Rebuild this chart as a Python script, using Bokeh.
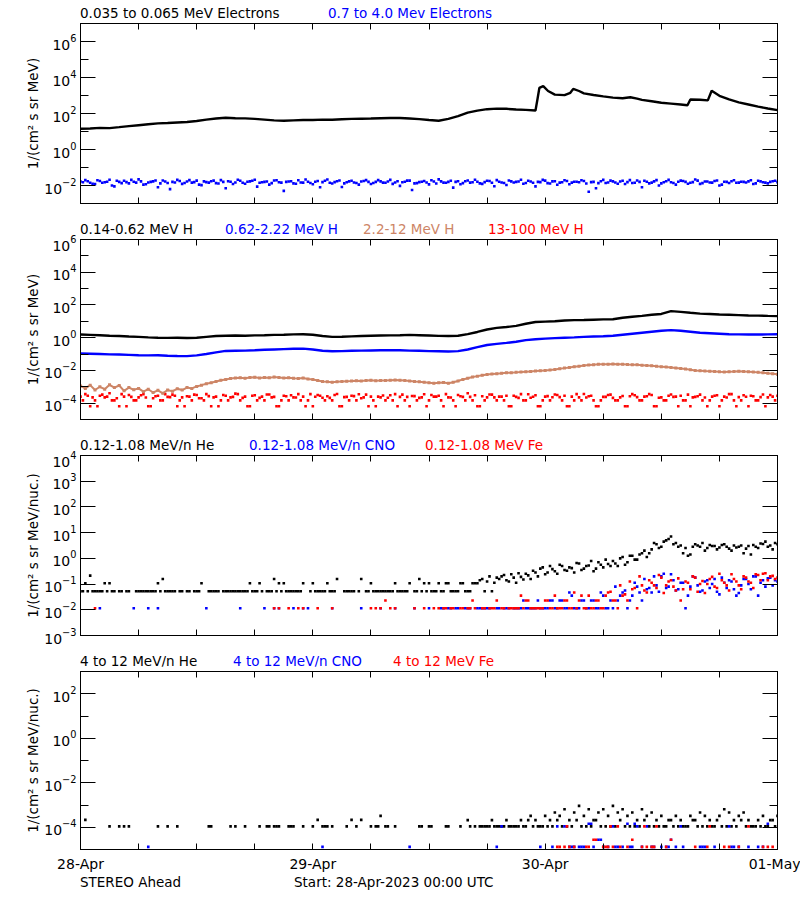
import numpy as np
from bokeh.plotting import figure
from bokeh.layouts import column
from bokeh.models import FixedTicker, LogAxis, LinearAxis, Range1d, CustomJSTickFormatter, Div
from bokeh.embed import file_html
from bokeh.resources import INLINE

N = None
FONT = "DejaVu Sans"
FS = "13.5px"
TICK_FS = "14px"
BLACK, BLUE, BROWN, RED = "#000000", "#0000ff", "#cd8566", "#ff0000"

# ---------------- axes / labels ----------------
DAY_TICKS = [0, 24, 48, 72]
DAY_LABELS = ["28-Apr", "29-Apr", "30-Apr", "01-May"]
SIX_HOUR_TICKS = [6, 12, 18, 30, 36, 42, 54, 60, 66]
FOOT_LEFT = "STEREO Ahead"
FOOT_START = "Start: 28-Apr-2023 00:00 UTC"

# sample times (hours since 28-Apr-2023 00:00)
HOURS = list(range(73))
HALF = [i * 0.5 for i in range(145)]
HALF_OFF = [0.25 + i * 0.5 for i in range(144)]

# ---------------- panel 1 : electrons (log10 values) ----------------
E_LO_HOURS = list(range(48)) + [47.2, 47.4, 47.8, 48.3, 49, 50, 50.6, 50.9, 51.5, 52, 53, 54, 55, 56,
                                56.8, 57.5, 58, 59, 60, 61, 62, 62.7, 63, 64, 64.8, 65.2, 66, 67, 68,
                                69, 70, 71, 72]
E_LO_LOG = [1.15, 1.17, 1.20, 1.19, 1.24, 1.30, 1.35, 1.40, 1.45, 1.47, 1.50, 1.53, 1.58, 1.66, 1.72,
            1.76, 1.74, 1.73, 1.70, 1.66, 1.62, 1.60, 1.62, 1.64, 1.64, 1.66, 1.65, 1.68, 1.70, 1.71,
            1.72, 1.74, 1.75, 1.75, 1.72, 1.69, 1.64, 1.60, 1.70, 1.85, 2.05, 2.16, 2.24, 2.27, 2.26,
            2.22, 2.20, 2.17,
            2.78, 3.42, 3.52, 3.25, 3.05, 3.02, 3.15, 3.37, 3.25, 3.12, 3.03, 2.95, 2.88, 2.85, 2.90,
            2.83, 2.76, 2.68, 2.60, 2.55, 2.50, 2.46, 2.78, 2.76, 2.73, 3.26, 2.98, 2.78, 2.62, 2.50,
            2.38, 2.28, 2.19]
E_HI_LOG = [-1.78, -1.70, -1.85, -1.92, -1.75, -1.82, -1.68, -2.05, -1.80, -1.74,
            -1.88, -1.79, -1.66, -1.95, -1.83, -1.77, -2.10, -1.72, -1.86, -1.80,
            -1.69, -1.91, -1.78, -1.84, -1.73, -1.98, -1.81, -1.76, -1.87, -1.70,
            -2.15, -1.79, -1.83, -1.74, -1.90, -1.77, -1.68, -1.85, -1.80, -1.95,
            -1.72, -1.82, -2.30, -1.78, -1.88, -1.71, -1.84, -1.79, -1.93, -1.75,
            -1.81, -1.67, -1.89, -1.76, -2.08, -1.82, -1.74, -1.86, -1.78, -1.70,
            -1.92, -1.80, -1.77, -1.85, -1.69, -1.83, -2.02, -1.79, -1.73, -1.88,
            -1.81, -1.75, -1.94, -1.78, -1.66, -1.84, -1.80, -2.12, -1.76, -1.87,
            -1.72, -1.82, -1.79, -1.91, -1.74, -1.85, -1.70, -1.83, -1.97, -1.77,
            -1.80, -1.68, -1.86, -1.78, -2.05, -1.81, -1.73, -1.89, -1.76, -1.84,
            -1.71, -1.93, -1.79, -1.82, -1.75, -2.35, -1.80, -1.87, -1.69, -1.83,
            -1.77, -1.90, -1.74, -1.81, -1.86, -1.72, -2.10, -1.79, -1.84, -1.70,
            -1.88, -1.76, -1.82, -1.95, -1.73, -1.80, -1.85, -1.67, -1.91, -1.78,
            -1.83, -1.75, -2.00, -1.79, -1.86, -1.71, -1.84, -1.80, -1.77, -1.92,
            -1.74, -1.82, -1.88, -1.76, -1.81]
E_HI_LOG_B = [-1.82, -1.76, -1.90, -1.71, -1.85, -1.79, -2.00, -1.74, -1.87, -1.81,
              -1.69, -1.84, -1.77, -1.93, -1.80, -1.72, -1.88, -1.78, -2.20, -1.83,
              -1.75, -1.86, -1.70, -1.81, -1.95, -1.77, -1.84, -1.73, -1.89, -1.80,
              -1.76, -1.92, -1.68, -1.85, -1.79, -1.74, -2.06, -1.82, -1.78, -1.87,
              -1.71, -1.84, -1.80, -1.76, -1.90, -1.83, -1.67, -1.86, -1.79, -2.10,
              -1.74, -1.85, -1.81, -1.72, -1.88, -1.77, -1.83, -1.95, -1.75, -1.80,
              -1.86, -1.70, -1.84, -1.78, -1.91, -1.76, -1.82, -1.73, -2.25, -1.87,
              -1.79, -1.83, -1.71, -1.89, -1.77, -1.85, -1.74, -1.80, -1.93, -1.76,
              -1.84, -1.68, -1.88, -1.81, -1.75, -2.04, -1.79, -1.86, -1.72, -1.83,
              -1.78, -1.90, -1.74, -1.85, -1.80, -1.69, -1.87, -1.77, -1.96, -1.82,
              -1.75, -1.84, -1.79, -1.71, -1.89, -1.81, -2.15, -1.76, -1.86, -1.73,
              -1.83, -1.78, -1.92, -1.70, -1.85, -1.80, -1.74, -1.88, -1.77, -2.00,
              -1.82, -1.69, -1.86, -1.79, -1.75, -1.90, -1.81, -1.73, -1.87, -1.78,
              -1.84, -1.72, -1.95, -1.80, -1.76, -1.85, -1.79, -1.83, -1.71, -1.88,
              -1.77, -1.84, -1.80, -1.74]

# ---------------- panel 2 : protons (log10 values) ----------------
H1_LOG = [0.19, 0.17, 0.15, 0.12, 0.10, 0.07, 0.05, 0.02, 0.00, -0.01,
          0.00, -0.02, 0.00, 0.05, 0.10, 0.12, 0.13, 0.12, 0.14, 0.15,
          0.17, 0.18, 0.20, 0.21, 0.18, 0.10, 0.05, 0.06, 0.08, 0.10,
          0.12, 0.13, 0.14, 0.15, 0.17, 0.15, 0.13, 0.11, 0.10, 0.12,
          0.22, 0.35, 0.50, 0.60, 0.65, 0.72, 0.85, 0.96, 0.98, 1.00,
          1.05, 1.07, 1.08, 1.10, 1.12, 1.13, 1.22, 1.28, 1.33, 1.40,
          1.45, 1.62, 1.58, 1.52, 1.47, 1.45, 1.42, 1.40, 1.38, 1.36,
          1.35, 1.33, 1.32]
H2_LOG = [-0.97, -0.98, -1.00, -1.02, -1.03, -1.05, -1.07, -1.08, -1.07, -1.10,
          -1.12, -1.13, -1.08, -1.00, -0.90, -0.81, -0.80, -0.79, -0.77, -0.74,
          -0.72, -0.70, -0.68, -0.67, -0.72, -0.80, -0.83, -0.82, -0.80, -0.79,
          -0.78, -0.77, -0.77, -0.77, -0.79, -0.80, -0.82, -0.83, -0.84, -0.82,
          -0.72, -0.58, -0.45, -0.38, -0.32, -0.25, -0.15, -0.10, -0.06, -0.03,
          0.00, 0.02, 0.05, 0.07, 0.09, 0.12, 0.18, 0.24, 0.30, 0.36,
          0.42, 0.46, 0.42, 0.36, 0.30, 0.27, 0.24, 0.21, 0.20, 0.19,
          0.19, 0.20, 0.21]
H3_LOG = [-2.95, -3.10, -2.90, -3.20, -3.00, -3.15, -2.88, -3.05, -2.92, -3.25,
          -3.05, -3.18, -3.10, -3.30, -3.15, -3.35, -3.22, -3.40, -3.20, -3.28,
          -3.12, -3.20, -3.05, -3.10, -2.98,
          -2.90, -2.82, -2.75, -2.68, -2.60, -2.55, -2.50, -2.46,
          -2.45, -2.48, -2.44, -2.42, -2.46, -2.43, -2.45, -2.41, -2.44, -2.47, -2.45, -2.48,
          -2.50, -2.47, -2.52, -2.55,
          -2.62, -2.68, -2.70, -2.72, -2.70, -2.68, -2.66, -2.65, -2.63, -2.64, -2.62, -2.60,
          -2.63, -2.61, -2.62, -2.60, -2.58, -2.60,
          -2.62, -2.65, -2.68, -2.70, -2.72, -2.75, -2.78, -2.76, -2.74, -2.78, -2.72, -2.65,
          -2.55, -2.48,
          -2.40, -2.35, -2.30, -2.25, -2.22, -2.20, -2.18, -2.15, -2.14, -2.12, -2.10, -2.08,
          -2.06, -2.04, -2.02, -2.00,
          -1.98, -1.95, -1.90, -1.86, -1.82, -1.78, -1.74, -1.70, -1.67, -1.65, -1.63, -1.62,
          -1.62, -1.61, -1.63, -1.62, -1.64, -1.65, -1.66, -1.68, -1.70, -1.72, -1.75, -1.77,
          -1.79, -1.82,
          -1.85, -1.88, -1.92, -1.96, -2.00, -2.02, -2.04, -2.05, -2.06, -2.08, -2.09, -2.08,
          -2.07, -2.05, -2.06, -2.08, -2.10, -2.12, -2.15, -2.18, -2.20, -2.23]
H4_LOG = [-3.60, -3.45, -4.19, -3.83, -3.55, -3.65, -3.40, -3.83, -4.19, -3.60,
          -3.50, -3.83, -3.65, -3.45, -4.19, -3.70, -3.55, -3.83, -3.62, -3.48,
          -4.19, -3.65, -3.58, -3.83, -3.50, -3.70, -3.45, -4.19, -3.60, -3.83,
          -3.55, -3.65, -3.42, -3.83, -3.60, -4.19, -3.52, -3.68, -3.83, -3.47,
          -3.62, -4.19, -3.55, -3.83, -3.65, -3.45, -3.60, -3.83, -4.19, -3.50,
          -3.67, -3.58, -3.83, -3.44, -4.19, -3.62, -3.55, -3.83, -3.70, -3.48,
          -3.60, -4.19, -3.65, -3.83, -3.52, -3.45, -3.62, -3.83, -4.19, -3.57,
          -3.68, -3.46, -3.83, -3.60, -3.55, -4.19, -3.65, -3.83, -3.50, -3.62,
          -3.40, -3.83, -4.19, -3.58, -3.65, -3.48, -3.83, -3.60, -3.55, -4.19,
          -3.62, -3.45, -3.83, -3.67, -3.52, -4.19, -3.60, -3.83, -3.47, -3.63,
          -3.55, -4.19, -3.83, -3.65, -3.44, -3.58, -3.83, -4.19, -3.62, -3.50,
          -3.68, -3.83, -3.56, -4.19, -3.45, -3.63, -3.83, -3.58, -3.50, -4.19,
          -3.65, -3.83, -3.47, -3.60, -3.55, -3.83, -4.19, -3.62, -3.48, -3.66,
          -3.83, -3.55, -4.19, -3.60, -3.45, -3.83, -3.63, -3.52, -4.19, -3.58,
          -3.83, -3.47, -3.65, -3.60, -3.55]
H4_LOG_B = [-3.83, -3.55, -3.65, -4.19, -3.48, -3.60, -3.83, -3.70, -3.45, -4.19,
            -3.62, -3.83, -3.52, -3.66, -4.19, -3.58, -3.83, -3.45, -3.63, -3.55,
            -3.83, -4.19, -3.60, -3.48, -3.70, -3.83, -3.57, -3.65, -4.19, -3.50,
            -3.83, -3.62, -3.45, -3.68, -4.19, -3.55, -3.83, -3.60, -3.47, -3.65,
            -4.19, -3.83, -3.58, -3.52, -3.66, -3.83, -4.19, -3.45, -3.61, -3.55,
            -3.83, -3.68, -3.50, -4.19, -3.63, -3.83, -3.57, -3.46, -3.65, -4.19,
            -3.83, -3.60, -3.53, -3.67, -3.83, -4.19, -3.48, -3.62, -3.56, -3.83,
            -3.65, -4.19, -3.50, -3.60, -3.83, -3.45, -3.66, -4.19, -3.58, -3.83,
            -3.62, -3.52, -4.19, -3.83, -3.47, -3.65, -3.60, -3.83, -4.19, -3.55,
            -3.68, -3.83, -3.46, -3.61, -4.19, -3.83, -3.57, -3.64, -3.50, -3.83,
            -4.19, -3.60, -3.45, -3.83, -3.66, -3.55, -4.19, -3.83, -3.62, -3.48,
            -3.83, -3.65, -4.19, -3.58, -3.52, -3.83, -3.60, -3.45, -4.19, -3.67,
            -3.83, -3.55, -3.62, -4.19, -3.83, -3.48, -3.65, -3.58, -3.83, -4.19,
            -3.60, -3.52, -3.83, -3.66, -3.45, -4.19, -3.83, -3.61, -3.55, -3.83,
            -3.63, -4.19, -3.50, -3.83]

# ---------------- panel 3 : 0.12-1.08 MeV/n (log10, None = no data) ----------------
HE3_A = [-1.28, -0.97, -0.67, -1.28, -1.28, -0.97, -0.97, -1.28, -1.28, N,
         -1.28, N, -1.28, -1.28, -1.28, -1.28, -0.97, -0.80, -1.28, -1.28,
         N, -1.28, -1.28, N, -1.28, -0.97, N, -1.28, -1.28, N,
         -1.28, -1.28, -1.28, -1.28, -1.28, -0.97, -1.28, -0.97, N, -1.28,
         -0.80, -0.97, -0.97, -1.28, -1.28, -1.28, -0.97, N, -0.97, -1.28,
         -1.28, -0.97, -1.28, -0.80, N, -1.28, -1.28, N, -0.80, -1.28,
         -0.97, -1.28, -1.28, -1.28, -1.28, -0.97, -1.28, -1.28, -0.97, -1.28,
         -0.80, -0.97, -0.97, -1.28, -0.97, -1.28, -0.97, -1.28, -1.28, -0.97,
         -1.28, -0.97, -0.97, -0.80, -0.90, -1.28, -0.75, -0.70, -0.85, -0.62,
         -0.95, -0.72, -0.60, -0.80, -0.55, -0.40, -0.62, -0.30, -0.50, -0.25,
         -0.45, -0.35, -0.55, -0.20, -0.40, -0.28, -0.50, -0.15, -0.35, -0.22,
         -0.10, -0.30, 0.05, -0.15, 0.10, -0.05, 0.20, 0.05, 0.35, 0.55,
         0.45, 0.70, 0.85, 0.60, 0.50, 0.40, 0.15, 0.55, 0.45, 0.30,
         0.52, 0.48, 0.42, 0.55, 0.38, 0.50, 0.45, 0.20, 0.48, 0.52,
         0.40, 0.56, 0.45, 0.35, 0.55]
HE3_B = [-1.28, -1.28, -1.28, -1.28, -1.28, -1.28, -1.28, N, -1.28, -1.28,
         N, -1.28, -1.28, -1.28, -1.28, -1.28, -1.28, -1.28, -1.28, -1.28,
         -1.28, N, -1.28, -1.28, -1.28, N, -1.28, -1.28, -1.28, -1.28,
         -1.28, -1.28, -1.28, -1.28, -1.28, -1.28, -1.28, -1.28, -1.28, -1.28,
         -1.28, -1.28, -1.28, -1.28, -1.28, -1.28, N, -1.28, -1.28, -1.28,
         -1.28, -1.28, -1.28, N, -1.28, -1.28, -1.28, -1.28, N, -1.28,
         -1.28, -1.28, -1.28, -1.28, -1.28, -1.28, -1.28, -1.28, N, -1.28,
         -1.28, -1.28, -1.28, -1.28,
         -1.28, -0.97, -1.28, -1.28, -0.97, -1.28, -1.28, -0.97, -0.85, -1.28,
         -0.70, -0.95, -0.80, -0.65, -0.90, -0.75, -0.58, -0.82, -0.66, -0.48,
         -0.70, -0.35, -0.55, -0.42, -0.60, -0.30, -0.48, -0.38, -0.18, -0.45,
         -0.30, -0.10, -0.40, -0.25, -0.05, -0.30, -0.20, 0.00, -0.25, 0.10,
         -0.05, 0.15, 0.30, 0.20, 0.60, 0.40, 0.65, 0.75, 0.55, 0.45,
         0.20, 0.10, 0.45, 0.50, 0.60, 0.40, 0.48, 0.35, 0.52, 0.45,
         0.30, 0.42, 0.50, 0.38, 0.15, 0.45, 0.58, 0.65, 0.50, 0.60]
CNO3_A = [N, N, N, N, -1.94, N, N, N, N, N,
          N, -1.94, N, N, -1.94, N, -1.94, N, N, N,
          N, N, N, N, N, N, -1.94, N, N, N,
          N, N, N, -1.94, N, N, N, N, -1.94, N,
          -1.94, -1.94, N, N, -1.94, N, -1.94, -1.94, N, N,
          N, N, -1.94, N, N, N, N, N, -1.94, N,
          N, N, -1.94, N, N, -1.94, N, N, N, -1.94,
          N, N, -1.94, N, N,
          -1.94, -1.94, N, -1.94, N, -1.94, N, -1.94, -1.94, -1.94,
          N, -1.94, N, -1.94, N, -1.94, -1.94, -1.94, -1.94, -1.94,
          -1.94, -1.94, -1.64, -1.94, -1.64, -1.94, -1.33, -1.94, -1.94, -1.64,
          -1.94, -1.64, -1.94, -1.45, -1.94, -1.94, -1.64, -1.33, -1.94, -1.45,
          -1.10, -1.64, -1.20, -1.33, -1.05, -0.70, -1.15, -0.62, -1.25, -0.95,
          -1.94, -1.10, -0.75, -1.30, -0.90, -1.15, -0.80, -1.40, -0.95, -0.85,
          -1.20, -1.35, -0.80, -1.00, -0.70, -1.45, -0.85, -0.78, -1.05, -0.90]
CNO3_B = [N] * 74 + [
          -1.94, N, -1.94, -1.94, N, -1.94, -1.94, N, -1.94, -1.94,
          -1.94, N, -1.94, -1.94, -1.94, -1.94, -1.94, -1.64, -1.94, -1.94,
          -1.64, -1.94, -1.94, -1.64, -1.94, -1.64, -1.94, -1.45, -1.94, -1.64,
          -1.94, -1.64, -1.94, -1.33, -1.94, -1.64, -1.10, -1.45, -1.25, -1.64,
          -0.95, -1.33, -0.80, -1.15, -0.70, -1.30, -0.60, -1.10, -0.85, -1.20,
          -0.95, -1.45, -0.70, -1.05, -1.25, -0.85, -1.00, -1.30, -0.75, -1.15,
          -0.90, -1.45, -1.05, -0.80, -1.20, -0.70, -0.95, -1.10, -0.75, -0.85]
FE3_A = [N, N, N, -1.94, N, N, N, N, N, N,
         N, N, N, N, N, N, N, N, N, N,
         N, N, N, N, N, N, N, N, N, N,
         N, N, N, N, N, N, N, N, N, N,
         -1.94, -1.94, N, -1.94, N, -1.94, -1.94, N, N, -1.94,
         N, N, -1.94, N, N, N, N, N, N, N,
         -1.94, -1.94, -1.94, -1.64, -1.94, -1.94, N, N, N, -1.94,
         N, -1.94, N, -1.94, -1.94,
         -1.94, N, -1.94, N, -1.94, -1.94, -1.64, N, -1.94, N,
         -1.94, -1.64, -1.94, N, -1.94, -1.94, -1.45, -1.64, -1.94, -1.94,
         -1.94, -1.64, -1.94, -1.45, -1.94, -1.64, -1.94, -1.33, -1.64, -1.94,
         -1.45, -1.94, -1.64, -1.94, -1.33, -1.64, -1.94, -1.45, -1.64, -1.20,
         -1.94, -1.05, -1.33, -0.95, -1.15, -0.75, -1.05, -0.85, -1.25, -1.64,
         -0.90, -1.20, -0.75, -1.00, -1.35, -0.80, -1.10, -0.60, -0.95, -1.25,
         -0.80, -1.05, -0.70, -0.90, -1.15, -0.65, -0.60, -0.85, -0.68, -0.75]
FE3_B = [N] * 74 + [
         N, -1.94, -1.94, N, -1.94, N, -1.94, -1.94, N, -1.94,
         -1.94, -1.94, N, -1.94, -1.94, -1.94, -1.94, -1.94, -1.64, -1.94,
         -1.94, -1.94, -1.64, -1.94, -1.94, -1.94, -1.64, -1.94, -1.94, -1.45,
         -1.94, -1.94, -1.64, -1.94, -1.45, -1.30, -1.64, -1.05, -1.40, -0.90,
         -1.15, -0.70, -1.25, -0.85, -1.05, -0.65, -1.35, -0.90, -1.10, -0.78,
         -1.20, -0.95, -0.70, -1.30, -0.88, -1.00, -0.72, -1.15, -0.85, -1.05,
         -0.62, -0.90, -1.20, -0.75, -0.95, -0.62, -0.85, -0.58, -0.70, -0.80]

# ---------------- panel 4 : 4-12 MeV/n (log10, None = no data) ----------------
HE4_A = [N, -3.67, N, N, N, N, -3.96, N, -3.96, -3.96,
         -3.96, N, N, N, N, N, -3.96, N, -3.96, N,
         -3.96, N, N, N, N, N, N, -3.96, N, N,
         N, -3.96, -3.96, N, -3.96, N, N, -3.96, N, -3.96,
         -3.96, -3.96, N, -3.96, -3.96, N, -3.96, N, -3.96, -3.67,
         -3.96, -3.96, -3.96, N, N, -3.96, -3.67, -3.96, -3.67, N,
         -3.96, -3.96, -3.49, -3.96, N, -3.96, N, N, N, N,
         -3.96, N, -3.96, N, N,
         N, -3.96, N, N, N, -3.68, N, N, -3.96, -3.96,
         -3.68, -3.96, -3.96, -3.68, -3.96, -3.96, -3.68, -3.96, -3.49, -3.68,
         -3.96, -3.49, -3.68, -3.34, -3.49, -3.19, -3.68, -3.34, -3.04, -3.49,
         -3.19, -3.68, -3.34, -3.19, -3.49, -3.04, -3.34, -3.19, -3.49, -3.34,
         -3.68, -3.19, -3.49, -3.34, -3.68, -3.49, -3.96, -3.68, -3.49, -3.68,
         -3.96, -3.49, -3.68, -3.34, -3.49, -3.68, -3.96, -3.49, -3.19, -3.34,
         -3.68, -3.49, -3.34, -3.68, -3.96, -3.68, -3.49, -3.96, -3.68, -3.49]
HE4_B = [N, N, N, N, N, N, N, N, N, N,
         N, N, N, N, N, N, N, N, N, N,
         N, N, N, N, N, N, -3.96, N, N, N,
         N, N, N, N, N, N, N, N, -3.96, N,
         -3.96, N, N, -3.96, N, N, N, N, N, N,
         -3.96, N, N, N, N, N, N, N, N, N,
         N, -3.96, N, -3.96, N, N, N, N, N, N,
         -3.96, N, -3.96, N,
         N, -3.96, N, N, -3.96, N, -3.96, -3.96, -3.96, -3.96,
         -3.96, -3.96, -3.96, -3.96, -3.96, -3.96, -3.96, -3.96, -3.68, -3.96,
         -3.96, -3.96, -3.96, -3.96, -3.68, -3.96, -3.96, -3.96, -3.68, -3.96,
         -3.96, -3.96, -3.68, -3.96, -3.96, -3.96, -3.96, -3.68, -3.96, -3.96,
         -3.96, -3.96, -3.68, -3.96, -3.96, -3.96, -3.96, -3.68, -3.96, -3.96,
         -3.96, -3.96, -3.68, -3.96, -3.96, -3.96, -3.96, -3.68, -3.96, -3.96,
         -3.96, -3.96, -3.68, -3.96, -3.96, -3.96, -3.96, -3.96, -3.68, -3.96]
CNO4_A = [N] * 14 + [-4.88] + [N] * 35 + [-4.88] + [N] * 17 + [-4.88] + [N] * 6 + [
          N, N, N, N, N, N, N, N, N, N,
          N, -4.88, -3.96, N, N, N, N, N, N, N,
          -4.88, N, N, N, N, -3.96, -4.88, -4.88, -4.88, -4.88,
          -3.84, -4.88, -4.56, -4.88, -4.88, -3.96, -4.88, -4.88, -3.84, -4.88,
          -3.96, -4.88, -3.96, -4.88, N, -4.88, -4.88, -4.56, -4.88, -3.96,
          N, N, N, -4.88, -4.88, N, -4.88, N, N, -3.96,
          -4.88, -4.88, N, -4.88, N, -4.88, -4.88, -3.84, N, N]
CNO4_B = [N] * 74 + [
          N, N, N, N, N, N, N, N, N, N,
          N, N, N, N, N, N, N, N, N, N,
          N, N, N, -4.88, -3.96, N, N, -4.88, N, -4.88,
          N, -3.84, N, -4.56, N, N, -4.88, N, N, -4.88,
          -3.84, N, N, N, -4.88, N, N, -4.88, N, N,
          -4.88, N, N, N, -4.88, N, N, N, N, N,
          -4.88, N, N, N, N, N, N, N, N, N]
FE4_A = [N] * 75 + [
         N, N, N, N, N, N, N, N, N, N,
         N, N, N, N, N, N, N, N, N, N,
         N, N, N, N, -4.88, -4.88, -4.88, -4.88, N, N,
         -4.88, -4.56, N, -4.88, -4.88, -4.88, -3.96, N, -4.88, -4.56,
         N, -4.88, -4.88, -4.88, -3.96, N, -4.88, -4.56, N, N,
         N, N, -4.88, N, N, -3.96, N, N, -4.88, -4.88,
         N, -4.88, N, -3.96, N, N, -4.88, -4.88, -4.88, N]
FE4_B = [N] * 74 + [
         N, N, N, N, N, N, N, N, N, N,
         N, N, N, N, N, N, N, N, N, N,
         N, N, N, N, -4.88, N, -3.96, N, N, N,
         -4.88, N, -4.56, N, -4.88, -3.96, N, -4.88, N, N,
         N, N, -3.96, N, -4.88, N, N, N, N, N,
         N, N, N, N, N, -4.88, N, N, N, N,
         N, N, N, N, N, N, N, N, N, N]

# ---------------- panel titles ----------------
P1_TITLES = [("0.035 to 0.065 MeV Electrons", BLACK), ("0.7 to 4.0 Mev Electrons", BLUE)]
P2_TITLES = [("0.14-0.62 MeV H", BLACK), ("0.62-2.22 MeV H", BLUE), ("2.2-12 MeV H", BROWN),
             ("13-100 MeV H", RED)]
P3_TITLES = [("0.12-1.08 MeV/n He", BLACK), ("0.12-1.08 MeV/n CNO", BLUE), ("0.12-1.08 MeV Fe", RED)]
P4_TITLES = [("4 to 12 MeV/n He", BLACK), ("4 to 12 MeV/n CNO", BLUE), ("4 to 12 MeV Fe", RED)]
YLAB_E = "1/(cm\u00b2 s sr MeV)"
YLAB_N = "1/(cm\u00b2 s sr MeV/nuc.)"

# ---------------- layout constants ----------------
W = 800
FRAME_H = 180
BORDER_L = 80
BORDER_R = 23
TITLE_H = 18

BLANK = CustomJSTickFormatter(code="return ''")


def pw(vals):
    return [np.nan if v is None else 10.0 ** v for v in vals]


def text_row(items, height, top):
    spans = "".join(
        f'<span style="position:absolute;left:{x}px;top:{top}px;color:{col};white-space:nowrap;">{txt}</span>'
        for txt, col, x in items)
    html = (f'<div style="position:relative;width:{W}px;height:{height}px;overflow:visible;'
            f'font-family:\'{FONT}\';font-size:{FS};line-height:16px;">{spans}</div>')
    return Div(text=html, width=W, height=height, margin=0)


def style_axis(ax, ticks, minor, tick_in, minor_in, show_labels, standoff=4):
    ax.ticker = FixedTicker(ticks=ticks, minor_ticks=minor)
    ax.major_tick_in = tick_in
    ax.major_tick_out = 0
    ax.minor_tick_in = minor_in
    ax.minor_tick_out = 0
    ax.axis_line_color = "black"
    ax.major_tick_line_color = "black"
    ax.minor_tick_line_color = "black"
    ax.major_label_text_font = FONT
    ax.major_label_text_font_size = TICK_FS
    ax.major_label_text_color = "black"
    ax.major_label_standoff = standoff
    if not show_labels:
        ax.formatter = BLANK
        ax.major_label_text_color = None
        ax.major_label_text_font_size = "2px"
        ax.major_label_standoff = 0


def make_panel(lo, hi, major_exp, minor_exp, ylabel, border_bottom, show_dates):
    p = figure(width=W, height=FRAME_H + 5 + border_bottom,
               x_range=Range1d(0, 72), y_range=Range1d(10.0 ** lo, 10.0 ** hi),
               y_axis_type="log", output_backend="svg", toolbar_location=None,
               min_border_left=BORDER_L, min_border_right=BORDER_R,
               min_border_top=5, min_border_bottom=border_bottom)
    p.grid.visible = False
    p.outline_line_color = "black"
    p.outline_line_width = 1
    p.background_fill_color = "white"
    p.border_fill_color = "white"

    majors = [10.0 ** e for e in major_exp]
    minors = [10.0 ** e for e in minor_exp]

    yax = p.yaxis[0]
    style_axis(yax, majors, minors, 15, 8, True, standoff=4)
    yax.axis_label = ylabel
    yax.axis_label_text_font = FONT
    yax.axis_label_text_font_size = FS
    yax.axis_label_text_font_style = "normal"
    yax.axis_label_text_color = "black"
    yax.axis_label_standoff = 0
    rax = LogAxis()
    style_axis(rax, majors, minors, 15, 8, False)
    p.add_layout(rax, "right")

    xax = p.xaxis[0]
    style_axis(xax, DAY_TICKS, SIX_HOUR_TICKS, 6, 6, show_dates, standoff=6)
    if show_dates:
        xax.major_label_overrides = {t: lab for t, lab in zip(DAY_TICKS, DAY_LABELS)}
    tax = LinearAxis()
    style_axis(tax, DAY_TICKS, SIX_HOUR_TICKS, 6, 6, False)
    p.add_layout(tax, "above")
    return p


def title_row(titles, offsets):
    return text_row([(t, c, BORDER_L + o) for (t, c), o in zip(titles, offsets)], TITLE_H, TITLE_H - 13)


def dots(p, xs, logs, color, size=2.6):
    p.scatter(xs, pw(logs), marker="square", size=size, fill_color=color, line_color=None)


# panel 1
p1 = make_panel(-3, 7, [-2, 0, 2, 4, 6], [-3, -1, 1, 3, 5, 7], YLAB_E, 13, False)
p1.line(E_LO_HOURS, pw(E_LO_LOG), line_width=2.4, color=BLACK)
dots(p1, HALF, E_HI_LOG, BLUE)
dots(p1, HALF_OFF, E_HI_LOG_B, BLUE)

# panel 2
p2 = make_panel(-5, 6, [-4, -2, 0, 2, 4, 6], [-5, -3, -1, 1, 3, 5], YLAB_E, 13, False)
dots(p2, HALF, H4_LOG, RED)
dots(p2, HALF_OFF, H4_LOG_B, RED)
p2.line(HALF, pw(H3_LOG), line_width=2.0, color=BROWN)
dots(p2, HALF, H3_LOG, BROWN, 3)
p2.line(HOURS, pw(H2_LOG), line_width=2.4, color=BLUE)
p2.line(HOURS, pw(H1_LOG), line_width=2.4, color=BLACK)

# panel 3
p3 = make_panel(-3, 4, [-3, -2, -1, 0, 1, 2, 3, 4], [], YLAB_N, 13, False)
dots(p3, HALF, HE3_A, BLACK)
dots(p3, HALF_OFF, HE3_B, BLACK)
dots(p3, HALF, CNO3_A, BLUE)
dots(p3, HALF_OFF, CNO3_B, BLUE)
dots(p3, HALF, FE3_A, RED)
dots(p3, HALF_OFF, FE3_B, RED)

# panel 4
p4 = make_panel(-5, 3, [-4, -2, 0, 2], [-5, -3, -1, 1, 3], YLAB_N, 23, True)
dots(p4, HALF, HE4_A, BLACK)
dots(p4, HALF_OFF, HE4_B, BLACK)
dots(p4, HALF, CNO4_A, BLUE)
dots(p4, HALF_OFF, CNO4_B, BLUE)
dots(p4, HALF, FE4_A, RED)
dots(p4, HALF_OFF, FE4_B, RED)

footer = text_row([(FOOT_LEFT, BLACK, BORDER_L), (FOOT_START, BLACK, BORDER_L + 214)], 20, 0)

layout = column(title_row(P1_TITLES, [0, 248]), p1,
                title_row(P2_TITLES, [0, 145, 283, 408]), p2,
                title_row(P3_TITLES, [0, 169, 345]), p3,
                title_row(P4_TITLES, [0, 153, 313]), p4,
                footer, spacing=0)
open("out.html", "w").write(file_html(layout, INLINE))
